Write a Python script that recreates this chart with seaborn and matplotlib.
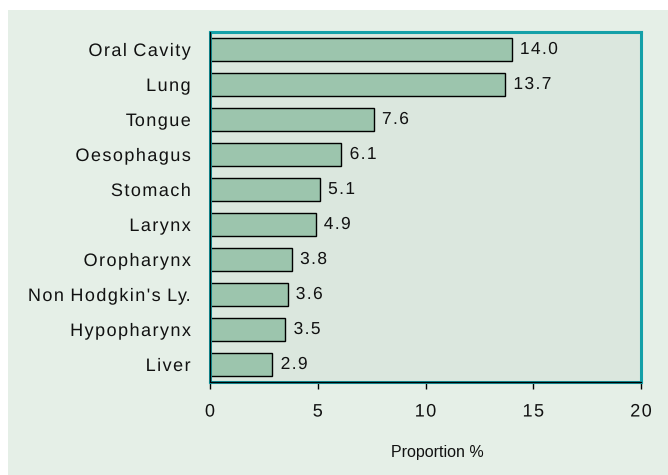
import matplotlib
matplotlib.use("Agg")
import numpy as np
import matplotlib.pyplot as plt
import seaborn as sns
from matplotlib.patches import Rectangle
from matplotlib.ticker import FixedLocator
from matplotlib.patheffects import AbstractPathEffect
from matplotlib.path import Path

categories = ["Oral Cavity", "Lung", "Tongue", "Oesophagus", "Stomach",
              "Larynx", "Oropharynx", "Non Hodgkin's Ly.", "Hypopharynx", "Liver"]
values = [14.0, 13.7, 7.6, 6.1, 5.1, 4.9, 3.8, 3.6, 3.5, 2.9]
xticks = [0, 5, 10, 15, 20]
xlabel = "Proportion %"


class LetterSpacing(AbstractPathEffect):
    """Draw text with extra space between glyphs (spacing in em units)."""

    def __init__(self, spacing=0.15, align="left"):
        super().__init__()
        self.spacing = spacing
        self.align = align

    def draw_path(self, renderer, gc, tpath, affine, rgbFace=None):
        verts = np.array(tpath.vertices, dtype=float)
        codes = tpath.codes
        if codes is None or len(verts) == 0:
            renderer.draw_path(gc, tpath, affine, rgbFace)
            return
        starts = list(np.where(codes == Path.MOVETO)[0]) + [len(verts)]
        s = self.spacing * 100.0
        glyph = -1
        cur_max = -np.inf
        new = verts.copy()
        for a, b in zip(starts[:-1], starts[1:]):
            seg = verts[a:b]
            xmin, xmax = seg[:, 0].min(), seg[:, 0].max()
            if glyph < 0 or xmin >= cur_max - 1.0:
                glyph += 1
                cur_max = xmax
            else:
                cur_max = max(cur_max, xmax)
            new[a:b, 0] += glyph * s
        extra = max(glyph, 0) * s
        if self.align == "right":
            new[:, 0] -= extra
        elif self.align == "center":
            new[:, 0] -= extra / 2
        renderer.draw_path(gc, Path(new, codes), affine, rgbFace)


sns.set_style("white")
plt.rcParams['font.family'] = ['Liberation Sans', 'DejaVu Sans']

BG = "#e5efe7"
FACE = "#dbe7de"
BAR = "#9cc5ad"
TEAL = "#14a0a8"
TXT = "#111111"
FS = 13
SP = 0.08

fig = plt.figure(figsize=(6.68, 4.75), dpi=100)
fig.patch.set_facecolor("white")
fig.patches.append(Rectangle((8/668, 0), 1 - 8/668, 465/475, transform=fig.transFigure,
                             facecolor=BG, edgecolor="none", zorder=-10))

W, H = 668, 475
L, R, T, B = 210, 641, 32, 382
ax = fig.add_axes([L/W, (H-B)/H, (R-L)/W, (B-T)/H])
ax.set_facecolor(FACE)

sns.barplot(x=values, y=categories, orient="h", color=BAR, edgecolor="black",
            linewidth=1, width=0.63, saturation=1, ax=ax)

for i, v in enumerate(values):
    ax.text(v + 0.38, i, f"{v:.1f}", va="center", ha="left", fontsize=12.5, color=TXT,
            path_effects=[LetterSpacing(SP, "left")])

ax.set_xlim(0, 20)
ax.set_ylim(len(categories) - 0.5, -0.5)
ax.set_xticks(xticks)
ax.set_xticklabels([str(t) for t in xticks])
ax.yaxis.set_minor_locator(FixedLocator([i - 0.5 for i in range(len(categories) + 1)]))
ax.tick_params(axis="y", which="major", length=0, pad=14, labelsize=FS, labelcolor=TXT)
ax.tick_params(axis="y", which="minor", length=5, width=1, color="black", direction="out")
ax.tick_params(axis="x", which="major", length=5, width=1, color="black", direction="out",
               pad=10.5, labelsize=FS, labelcolor=TXT, bottom=True)
ax.set_xlabel("")
ax.set_ylabel("")
for t in ax.get_yticklabels():
    t.set_path_effects([LetterSpacing(SP, "right")])
for t in ax.get_xticklabels():
    t.set_path_effects([LetterSpacing(SP, "center")])

for s in ax.spines.values():
    s.set_visible(True)
    s.set_color(TEAL)
    s.set_linewidth(2.2)

ax.plot([0, 0], [0, 1], transform=ax.transAxes, color="black", lw=1, clip_on=False, zorder=5)
ax.plot([0, 1], [0, 0], transform=ax.transAxes, color="black", lw=1, clip_on=False, zorder=5)

ax.text((437.5 - L) / (R - L), (B - 453) / (B - T), xlabel, transform=ax.transAxes,
        ha="center", va="center", fontsize=11.5, color=TXT)

fig.savefig("out.png", dpi=100, facecolor=fig.get_facecolor())
